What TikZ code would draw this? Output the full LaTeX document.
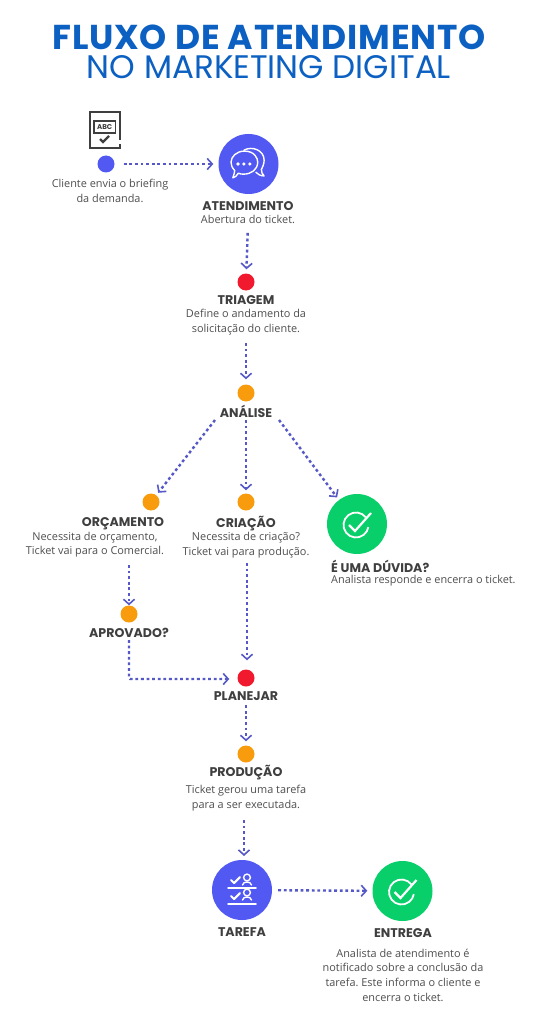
\documentclass[tikz,border=0pt]{standalone}
\usepackage{fontspec}
\setmainfont{Open Sans}
\newfontfamily\headfont{Poppins}
\newfontfamily\titlefont[LetterSpace=2.4]{Poppins}
\usetikzlibrary{arrows.meta,calc}
\frenchspacing
\definecolor{flowc}{HTML}{5558C6}
\definecolor{violetc}{HTML}{5159F2}
\definecolor{orangec}{HTML}{F89C0E}
\definecolor{redc}{HTML}{F0192D}
\definecolor{greenc}{HTML}{08CF6A}
\definecolor{titlec}{HTML}{0B60C2}
\definecolor{bodyc}{HTML}{4F4F4F}
\definecolor{headc}{HTML}{3F3F3F}
\tikzset{
  flow/.style={draw=flowc,line width=2.4pt,dash pattern=on 2.8pt off 2.8pt,-{Straight Barb[length=5pt,width=11pt,line width=1.6pt]}},
  dot/.style={circle,minimum size=17pt,inner sep=0pt},
  bigc/.style={circle,minimum size=60pt,inner sep=0pt},
  head/.style={font=\headfont\bfseries\fontsize{12.6}{14}\selectfont,text=headc,inner sep=0pt},
  body/.style={font=\fontsize{10.9}{14.6}\selectfont,text=bodyc,inner sep=0pt,align=center},
  icon/.style={draw=white,line width=1.4pt,line cap=round,line join=round},
  pics/okmark/.style={code={
    \draw[white,line width=1.8pt] (38:12.5pt) arc[start angle=38,end angle=350,radius=12.5pt];
    \draw[white,line width=2.2pt,line join=miter] (-7pt,0pt) -- (-1pt,-6pt) -- (15pt,12pt);
  }}
}
\begin{document}
\begin{tikzpicture}[x=1pt,y=-1pt]
\useasboundingbox[fill=white] (0,0) rectangle (538,1024);
% title
\node[inner sep=0pt,text=titlec,font=\titlefont\bfseries\fontsize{34.5}{36}\selectfont] (t1) at (269,37.5) {FLUXO DE ATENDIMENTO};
\node[inner sep=0pt,text=titlec,font=\headfont\fontsize{32.6}{35}\selectfont] (t2) at (269,67.5) {NO MARKETING DIGITAL};
% markers
\node[dot,fill=violetc] (cli) at (106,164) {};
\node[bigc,fill=violetc] (atend) at (248.5,164) {};
\node[dot,fill=redc] (triag) at (246,282) {};
\node[dot,fill=orangec] (anal) at (246,393) {};
\node[dot,fill=orangec] (orc) at (151,502) {};
\node[dot,fill=orangec] (cria) at (246,502) {};
\node[bigc,fill=greenc] (duv) at (357,524) {};
\node[dot,fill=orangec] (apr) at (129,614) {};
\node[dot,fill=redc] (plan) at (246,678) {};
\node[dot,fill=orangec] (prod) at (246,754) {};
\node[bigc,fill=violetc] (tar) at (242,890) {};
\node[bigc,fill=greenc] (ent) at (402.5,891) {};
% texts
\node[body] (clitxt) at (110,191) {Cliente envia o briefing\\da demanda.};
\node[head] (atendh) at (248,206) {ATENDIMENTO};
\node[body] (atendt) at (248,219.5) {Abertura do ticket.};
\node[head] (triagh) at (246,300.5) {TRIAGEM};
\node[body] (triagt) at (246,322) {Define o andamento da\\solicitação do cliente.};
\node[head] (analh) at (246,411) {ANÁLISE};
\node[head] (orch) at (123,524) {ORÇAMENTO};
\node[body] (orct) at (95,544.5) {Necessita de orçamento,\\Ticket vai para o Comercial.};
\node[head] (criah) at (246,524) {CRIAÇÃO};
\node[body] (criat) at (246,545) {Necessita de criação?\\Ticket vai para produção.};
\node[head,anchor=west] (duvh) at (331,566) {É UMA DÚVIDA?};
\node[body,anchor=west] (duvt) at (331,580.5) {Analista responde e encerra o ticket.};
\node[head] (aprh) at (129,633) {APROVADO?};
\node[head] (planh) at (246,696.5) {PLANEJAR};
\node[head] (prodh) at (246,773) {PRODUÇÃO};
\node[body] (prodt) at (246,798) {Ticket gerou uma tarefa\\para a ser executada.};
\node[head] (tarh) at (242,932) {TAREFA};
\node[head] (enth) at (403,933) {ENTREGA};
\node[body] (entt) at (403,975) {Analista de atendimento é\\notificado sobre a conclusão da\\tarefa. Este informa o cliente e\\encerra o ticket.};
% connector ends
\coordinate (a1) at (215,420);
\coordinate (a2) at (246,420);
\coordinate (a3) at (279,420);
\coordinate (c1) at (247,563);
\coordinate (o1) at (129,565);
\coordinate (ap1) at (129,640);
\coordinate (ap2) at (129,679);
\coordinate (p1) at (244,820);
\coordinate (p2) at (244,856);
% connectors
\draw[flow,shorten <=9pt,shorten >=5pt] (cli) -- (atend);
\draw[flow,shorten <=9pt,shorten >=4pt] (atendt.south) -- (triag);
\draw[flow,shorten <=8pt,shorten >=5pt] (triagt.south) -- (anal);
\draw[flow,shorten >=3pt] (a1) -- (orc);
\draw[flow,shorten >=3pt] (a2) -- (cria);
\draw[flow,shorten >=3pt] (a3) -- (duv);
\draw[flow] (o1) -- (o1 |- apr.north);
\draw[flow,shorten >=8pt,rounded corners=1pt] (ap1) -- (ap2) -- (ap2 -| plan.west);
\draw[flow,shorten >=9pt] (c1) -- (c1 |- plan.north);
\draw[flow,shorten >=4pt] (planh.south) ++(0,4) -- (prod);
\draw[flow] (p1) -- (p2);
\draw[flow,shorten <=6pt,shorten >=5pt] (tar) -- (ent);
% document icon
\draw[draw=headc,line width=2pt] (119.5,140) -- (119.5,112.5) -- (89.5,112.5) -- (89.5,148) -- (119.5,148) -- (119.5,144);
\draw[draw=headc,line width=1.5pt] (94,121) rectangle (115.5,133);
\node[inner sep=0pt,text=headc,font=\headfont\bfseries\fontsize{7}{8}\selectfont] (abc) at (104.7,127) {ABC};
\draw[draw=headc,line width=2.2pt] (100,139) -- (103,142) -- (109,136);
% chat icon
\begin{scope}[shift={(atend.center)},scale=0.92]
\draw[icon,fill=violetc] (-5,-15) .. controls (4,-20) and (17,-15) .. (17,-4) .. controls (17,0) and (15,4) .. (14,6) .. controls (14,9) and (15,11) .. (17,13) .. controls (13,13) and (10,11) .. (8,9);
\draw[icon,fill=violetc] (-4.5,-14) .. controls (7,-14) and (10,-6) .. (10,-2) .. controls (10,6) and (3,11) .. (-5,11) .. controls (-8,11) and (-9,11) .. (-11,10) .. controls (-13,13) and (-15,15) .. (-17,15) .. controls (-16,12) and (-15,9) .. (-15,7) .. controls (-18,4) and (-19,1) .. (-19,-2) .. controls (-19,-8) and (-13,-14) .. (-4.5,-14) -- cycle;
\fill[white] (-11.5,0) circle (2) (-5,0) circle (2) (1.5,0) circle (2);
\end{scope}
% task icon
\begin{scope}[shift={(tar.center)}]
\draw[icon,line width=1.5pt] (-14,-2) -- (14,-2) (-14,14) -- (14,14);
\draw[icon,line width=2.1pt] (-11,-10) -- (-8,-7) -- (-2,-13);
\draw[icon,line width=2.1pt] (-11,6) -- (-8,9) -- (-2,3);
\draw[icon] (5,-12.5) circle (3.4);
\draw[icon] (0.5,-5) .. controls (1,-9) and (9,-9) .. (9.5,-5);
\draw[icon] (5,2.5) circle (3.4);
\draw[icon] (0.5,10) .. controls (1,6) and (9,6) .. (9.5,10);
\end{scope}
% check icons
\pic at ($(duv.center)+(-1,1)$) {okmark};
\pic at ($(ent.center)+(-1,1)$) {okmark};
\end{tikzpicture}
\end{document}
